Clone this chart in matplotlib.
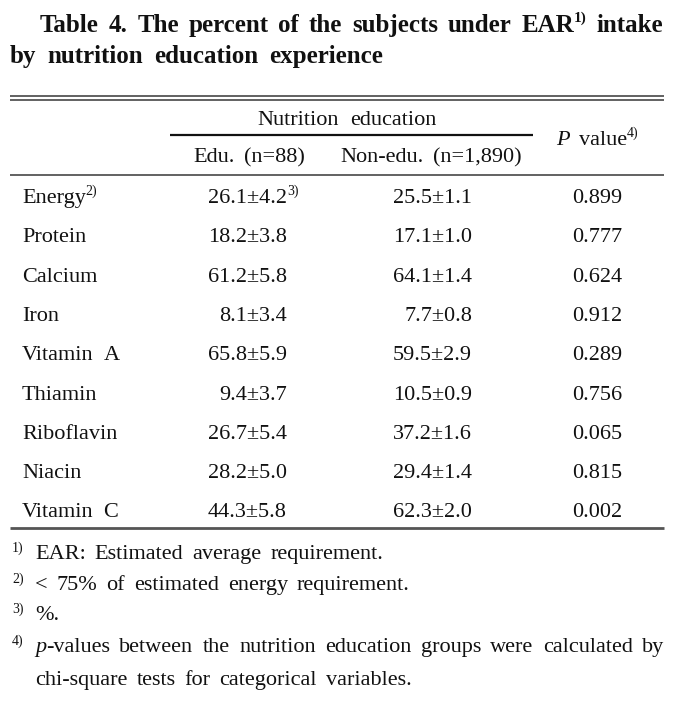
import matplotlib
matplotlib.use('Agg')
import matplotlib.pyplot as plt

# ---------------- data ----------------
title1 = ["Table", "4.", "The", "percent", "of", "the", "subjects", "under", "EAR", "intake"]
title2 = ["by", "nutrition", "education", "experience"]
group_header = "Nutrition education"
col_edu = "Edu. (n=88)"
col_non = "Non-edu. (n=1,890)"
nutrients = ["Energy", "Protein", "Calcium", "Iron", "Vitamin A",
             "Thiamin", "Riboflavin", "Niacin", "Vitamin C"]
edu_mean = [26.1, 18.2, 61.2, 8.1, 65.8, 9.4, 26.7, 28.2, 44.3]
edu_se = [4.2, 3.8, 5.8, 3.4, 5.9, 3.7, 5.4, 5.0, 5.8]
non_mean = [25.5, 17.1, 64.1, 7.7, 59.5, 10.5, 37.2, 29.4, 62.3]
non_se = [1.1, 1.0, 1.4, 0.8, 2.9, 0.9, 1.6, 1.4, 2.0]
pvals = ["0.899", "0.777", "0.624", "0.912", "0.289", "0.756", "0.065", "0.815", "0.002"]
foot1 = "EAR: Estimated average requirement."
foot2 = "< 75% of estimated energy requirement."
foot3 = "%."
foot4a = "values between the nutrition education groups were calculated by"
foot4b = "chi-square tests for categorical variables."

# ---------------- setup ----------------
W, H = 683, 711
fig = plt.figure(figsize=(W / 100, H / 100), dpi=100)
ax = fig.add_axes([0, 0, 1, 1])
ax.set_xlim(0, W)
ax.set_ylim(H, 0)
ax.axis('off')
r = fig.canvas.get_renderer()

FONT = ['Liberation Serif', 'DejaVu Serif']
INK = '#111111'
BODY = 16
SUP = 10
GAP = 9


def make(parts, y):
    objs, ws = [], []
    for txt, o in parts:
        t = ax.text(0, y - o.get('dy', 0), txt, fontsize=o.get('size', BODY), family=FONT,
                    fontstyle=o.get('style', 'normal'), fontweight=o.get('weight', 'normal'),
                    va='baseline', ha='left', color=INK)
        ws.append(t.get_window_extent(renderer=r).width + o.get('kern', 0))
        objs.append(t)
    return objs, ws


def line(x, y, words, gap=GAP, x1=None, ha='left', anchor=None):
    made = [make(w, y) for w in words]
    wsum = [sum(ws) for _, ws in made]
    if x1 is not None and len(words) > 1:
        gap = (x1 - x - sum(wsum)) / (len(words) - 1)
    total = sum(wsum) + gap * (len(words) - 1)
    if ha == 'right':
        start = x - (anchor(made) if anchor else total)
    elif ha == 'center':
        start = x - total / 2
    else:
        start = x
    cx = start
    for objs, ws in made:
        for t, w in zip(objs, ws):
            t.set_x(cx)
            cx += w
        cx += gap


def w(s, **o):
    return [(s, o)]


first_only = lambda made: made[0][1][0]

# ---------------- title ----------------
TB = dict(weight='bold', size=18)
words1 = []
for s in title1:
    if s == "EAR":
        words1.append([("EAR", TB), ("1)", dict(weight='bold', size=11, dy=10, kern=0))])
    else:
        words1.append(w(s, **TB))
line(40, 32, words1, x1=663)
line(10, 63, [w(s, **TB) for s in title2], x1=383)

# ---------------- rules ----------------
def hline(x0, x1, y, c='#555555', lw=1.3):
    ax.plot([x0, x1], [y, y], color=c, lw=lw, solid_capstyle='butt')

hline(10, 664, 95.5)
hline(10, 664, 99.5)
hline(170, 533, 135, c='#111111', lw=1.6)
hline(10, 664, 174.5, lw=1.3)
hline(10, 664, 528, lw=2.0)

# ---------------- header ----------------
line(347, 125, [w(s) for s in group_header.split(" ")], ha='center', gap=12)
line(249, 162, [w(s) for s in col_edu.split(" ")], ha='center', gap=10)
line(431, 162, [w(s) for s in col_non.split(" ")], ha='center', gap=10)
line(556, 145, [w("P", style='italic'), [("value", {}), ("4)", dict(size=SUP, dy=8))]], gap=9)

# ---------------- body ----------------
row0, step = 203, 39.3
for i, name in enumerate(nutrients):
    y = row0 + i * step
    parts = name.split(" ")
    lw_ = [w(s) for s in parts]
    if i == 0:
        lw_[0] = [(name, {}), ("2)", dict(size=SUP, dy=8))]
    line(22, y, lw_, gap=10)
    ev = [(f"{edu_mean[i]:.1f}\u00b1{edu_se[i]:.1f}", {})]
    if i == 0:
        ev.append(("3)", dict(size=SUP, dy=8)))
    line(287, y, [ev], ha='right', anchor=first_only)
    line(472, y, [[(f"{non_mean[i]:.1f}\u00b1{non_se[i]:.1f}", {})]], ha='right')
    line(622, y, [[(pvals[i], {})]], ha='right')

# ---------------- footnotes ----------------
def foot(y, mark, text_words, x1=None, first=None):
    ax.text(12, y - 7, mark, fontsize=SUP, family=FONT, color=INK, va='baseline')
    wl = [w(s) for s in text_words]
    if first is not None:
        wl[0] = first
    line(35, y, wl, x1=x1, gap=9)

foot(559, "1)", foot1.split(" "))
foot(590, "2)", foot2.split(" "))
foot(620, "3)", foot3.split(" "))
f4 = foot4a.split(" ")
foot(652, "4)", f4, x1=664, first=[("p", dict(style='italic')), ("-" + f4[0], {})])
line(35, 685, [w(s) for s in foot4b.split(" ")], gap=9)

fig.savefig('out.png', dpi=100, facecolor='white')
